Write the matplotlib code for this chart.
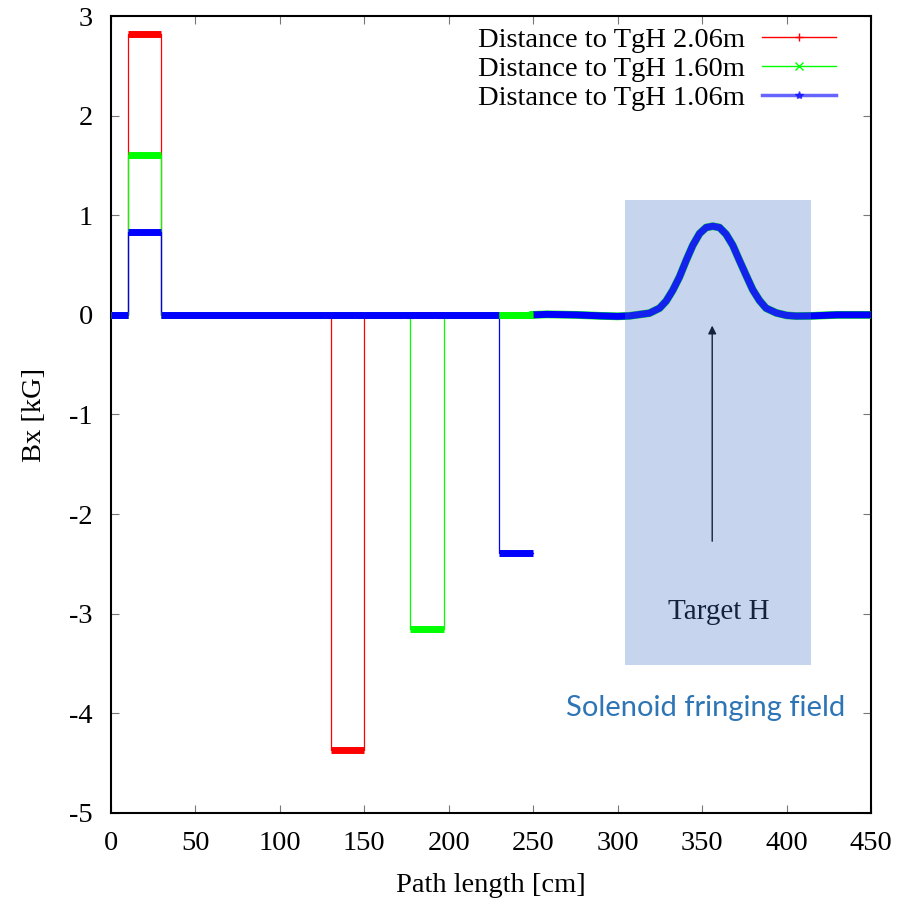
import numpy as np
import matplotlib
matplotlib.use("Agg")
import matplotlib.pyplot as plt
from matplotlib.lines import Line2D
from matplotlib.patches import Rectangle

# plateau edges [cm] and levels [kG] for the three dipole settings
red_edges = [0, 10, 29.5, 130, 150, 250]
red_levels = [0, 2.82, 0, -4.37, 0]
green_edges = [0, 10, 29.5, 177, 197, 250]
green_levels = [0, 1.60, 0, -3.15, 0]
blue_edges = [0, 10, 29.5, 230, 250]
blue_levels = [0, 0.83, 0, -2.39]

# solenoid fringe tail, common to all three runs
tail_x = [250, 258, 275, 290, 300, 307.0, 318.8, 324.8, 328.7, 332.6, 336.6, 340.6,
          344.5, 348.5, 352.4, 356.3, 360.3, 364.2, 368.2, 372.1, 376.1, 380.0,
          384.0, 387.9, 393.9, 400, 405.7, 415, 430, 450]
tail_y = [0, 0.005, 0, -0.01, -0.015, -0.01, 0.017, 0.067, 0.138, 0.245, 0.38, 0.547,
          0.698, 0.816, 0.877, 0.89, 0.877, 0.81, 0.698, 0.547, 0.396, 0.252,
          0.144, 0.067, 0.02, -0.005, -0.012, -0.01, 0, 0]

labels = ["Distance to TgH 2.06m", "Distance to TgH 1.60m", "Distance to TgH 1.06m"]
colors = ["#ff0000", "#00ff00", "#0000ff"]
markers = ["+", "x", "*"]

plt.rcParams["font.family"] = ["Liberation Serif", "DejaVu Serif"]
plt.rcParams["axes.unicode_minus"] = False

fig = plt.figure(figsize=(9.12, 8.99), dpi=100)
ax = fig.add_axes([0.1217, 0.0957, 0.8333, 0.8865])


def draw(edges, levels, color):
    # thin step outline
    xs, ys = [], []
    for i, lev in enumerate(levels):
        xs += [edges[i], edges[i + 1]]
        ys += [lev, lev]
    ax.plot(xs, ys, color=color, lw=0.9, zorder=2)
    # thick plateaus (dense points in the original)
    ax.hlines(levels, edges[:-1], edges[1:], color=color, lw=5, zorder=3)


draw(red_edges, red_levels, colors[0])
draw(green_edges, green_levels, colors[1])
ax.plot(tail_x, tail_y, color=colors[1], lw=5.6, solid_joinstyle="round", zorder=3)
draw(blue_edges, blue_levels, colors[2])
ax.plot(tail_x, tail_y, color=colors[2], lw=5, solid_capstyle="butt",
        solid_joinstyle="round", zorder=3)
# green bar shows at zero where blue drops
ax.hlines(0, 230, 250, color=colors[1], lw=5, zorder=4)

ax.set_xlim(0, 450)
ax.set_ylim(-5, 3)
ax.set_xticks(np.arange(0, 451, 50))
ax.set_yticks(np.arange(-5, 4, 1))
ax.tick_params(direction="in", length=6, width=0.8, color="#777777",
               top=True, right=True, labelsize=20.5, pad=13)
for s in ax.spines.values():
    s.set_linewidth(1.5)
ax.set_xlabel("Path length [cm]", fontsize=20.5, labelpad=12)
ax.set_ylabel("Bx [kG]", fontsize=20.5, labelpad=16)

handles = [Line2D([], [], color=c, marker=m, lw=1, markersize=6) for c, m in zip(colors, markers)]
handles[2].set_linewidth(2.5)
handles[2].set_alpha(0.6)
ax.legend(handles, labels, loc="upper right", frameon=False, fontsize=20.5,
          markerfirst=False, handlelength=2.6, labelspacing=0.1, borderpad=0.0,
          borderaxespad=0.0, bbox_to_anchor=(0.954, 0.986), handletextpad=0.6)

# annotation: target arrow and label, then translucent box over them
ax.annotate("", xy=(356, -0.08), xytext=(356, -2.3),
            arrowprops=dict(arrowstyle="-|>", color="black", lw=1.0, mutation_scale=12),
            zorder=5)
ax.text(360, -2.98, "Target H", fontsize=21, ha="center", va="center", zorder=5)
ax.add_patch(Rectangle((304.3, -3.51), 110, 4.66, facecolor="#4472c4", alpha=0.3,
                       edgecolor="none", zorder=6))
ax.text(352, -3.95, "Solenoid fringing field", fontsize=21, ha="center", va="center",
        color="#2e75b6", family=["Lato", "DejaVu Sans"], zorder=7)

fig.savefig("out.png", dpi=100)
